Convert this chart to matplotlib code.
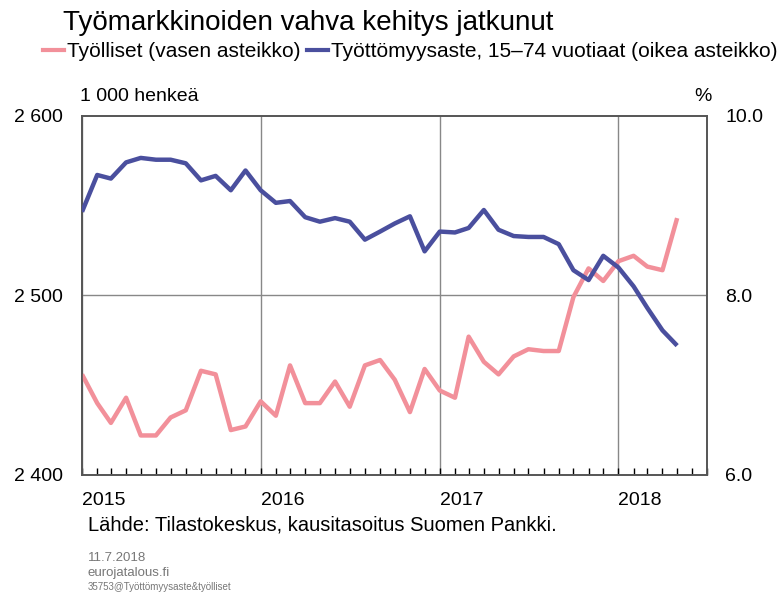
import numpy as np
import pandas as pd
import matplotlib
matplotlib.use("Agg")
import matplotlib.pyplot as plt
import matplotlib.dates as mdates
from matplotlib.lines import Line2D

plt.rcParams['font.family'] = ['Liberation Sans', 'DejaVu Sans']

# monthly data, Jan 2015 - May 2018
months = pd.date_range('2015-01-01', periods=41, freq='MS')

# employed persons, 1000 persons (left axis)
employed = [2456, 2440, 2429, 2443, 2422, 2422, 2432, 2436, 2458, 2456, 2425, 2427,
            2441, 2433, 2461, 2440, 2440, 2452, 2438, 2461, 2464, 2453, 2435, 2459,
            2447, 2443, 2477, 2463, 2456, 2466, 2470, 2469, 2469, 2499, 2515, 2508,
            2519, 2522, 2516, 2514, 2543]

# unemployment rate 15-74, % (right axis)
unemployment = [8.93, 9.34, 9.30, 9.48, 9.53, 9.51, 9.51, 9.47, 9.28, 9.33, 9.17, 9.39,
                9.17, 9.03, 9.05, 8.87, 8.82, 8.86, 8.82, 8.62, 8.71, 8.80, 8.88, 8.49,
                8.71, 8.70, 8.75, 8.95, 8.73, 8.66, 8.65, 8.65, 8.57, 8.28, 8.17, 8.44,
                8.31, 8.10, 7.86, 7.61, 7.44]

pink = '#F2909A'
blue = '#4A4F9E'

fig = plt.figure(figsize=(7.82, 5.97), dpi=100)
ax = fig.add_axes([0.1049, 0.2044, 0.7992, 0.6018])
ax2 = ax.twinx()

ax.plot(months, employed, color=pink, lw=3.2, solid_capstyle='butt', zorder=3)
ax2.plot(months, unemployment, color=blue, lw=3.2, solid_capstyle='butt', zorder=3)

ax.set_xlim(pd.Timestamp('2015-01-01'), pd.Timestamp('2018-07-01'))
ax.set_ylim(2400, 2600)
ax2.set_ylim(6.0, 10.0)

ax.set_yticks([2400, 2500, 2600])
ax.set_yticklabels(['2 400', '2 500', '2 600'])
ax2.set_yticks([6.0, 8.0, 10.0])
ax2.set_yticklabels(['6.0', '8.0', '10.0'])

ax.xaxis.set_major_locator(mdates.YearLocator())
ax.xaxis.set_major_formatter(mdates.DateFormatter('%Y'))
ax.xaxis.set_minor_locator(mdates.MonthLocator())
for lbl in ax.get_xticklabels():
    lbl.set_horizontalalignment('left')

ax.tick_params(axis='x', which='both', direction='in', length=5, width=1,
               labelsize=14, pad=12, colors='black')
ax.tick_params(axis='y', length=0, labelsize=14, pad=14)
ax2.tick_params(axis='y', length=0, labelsize=14, pad=13)

ax.grid(axis='x', which='major', color='#888888', lw=1)
ax.axhline(2500, color='#888888', lw=1, zorder=1)
for a in (ax, ax2):
    for s in a.spines.values():
        s.set_color('#555555')
        s.set_linewidth(1.2)

fig.text(0.081, 0.962, 'Työmarkkinoiden vahva kehitys jatkunut', fontsize=20, va='center')

# legend row
handles = [Line2D([], [], color=pink, lw=3), Line2D([], [], color=blue, lw=3)]
fig.legend(handles, ['Työlliset (vasen asteikko)',
                     'Työttömyysaste, 15–74 vuotiaat (oikea asteikko)'],
           loc='center left', bbox_to_anchor=(0.055, 0.913), ncol=2, frameon=False,
           fontsize=15, handlelength=1.0, handletextpad=0.15, columnspacing=0.3,
           borderaxespad=0, borderpad=0)

fig.text(0.102, 0.838, '1 000 henkeä', fontsize=14, va='center')
fig.text(0.888, 0.838, '%', fontsize=14, va='center')

fig.text(0.112, 0.12, 'Lähde: Tilastokeskus, kausitasoitus Suomen Pankki.', fontsize=14.5,
         va='center')
fig.text(0.112, 0.065, '11.7.2018', fontsize=9.5, color='#777777', va='center')
fig.text(0.112, 0.040, 'eurojatalous.fi', fontsize=9.5, color='#777777', va='center')
fig.text(0.112, 0.016, '35753@Työttömyysaste&työlliset', fontsize=7, color='#777777',
         va='center')

plt.savefig('out.png', dpi=100)
